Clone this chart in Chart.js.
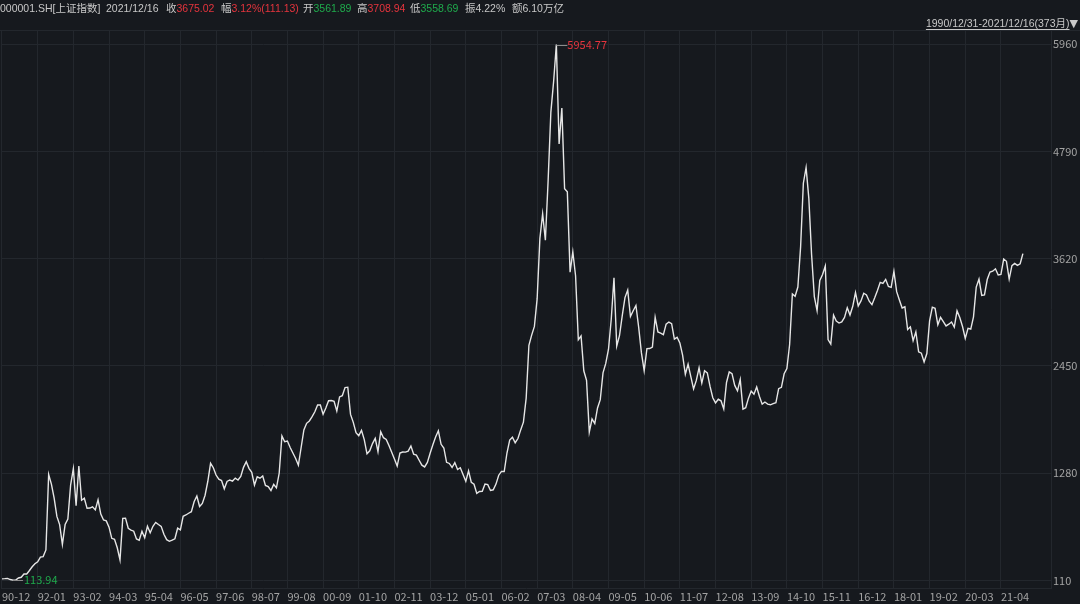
<!DOCTYPE html>
<html>
<head>
<meta charset="utf-8">
<script src="https://cdn.jsdelivr.net/npm/chart.js@4.4.0/dist/chart.umd.min.js"></script>
<style>
  html, body { margin: 0; padding: 0; background: #16191e; }
  #wrap { position: relative; width: 1080px; height: 604px; overflow: hidden;
          font-family: "Liberation Sans", "Noto Sans CJK SC", sans-serif; }
  #head { position: absolute; left: 0; top: 0; width: 1080px; height: 17px;
          font-size: 10.5px; line-height: 17px; color: #c8c8c8; white-space: nowrap; }
  #head > span { position: absolute; top: 0; }
  .up { color: #e5343d; }
  .dn { color: #1faa4c; }
  #range { position: absolute; right: 2px; top: 15px; font-size: 10.5px; line-height: 16px;
           color: #c8c8c8; white-space: nowrap; }
  #range u { text-underline-offset: 2px; }
  #range b { font-family: "DejaVu Sans", sans-serif; font-weight: normal; font-size: 11px; }
  canvas { position: absolute; left: 0; top: 0; }
</style>
</head>
<body>
<div id="wrap">
  <canvas id="myChart" width="1080" height="604"></canvas>
  <div id="head">
    <span style="left:0">000001.SH[上证指数]</span>
    <span style="left:106px">2021/12/16</span>
    <span style="left:166px">收<span class="up">3675.02</span></span>
    <span style="left:221px">幅<span class="up">3.12%(111.13)</span></span>
    <span style="left:303px">开<span class="dn">3561.89</span></span>
    <span style="left:357px">高<span class="up">3708.94</span></span>
    <span style="left:410px">低<span class="dn">3558.69</span></span>
    <span style="left:465px">振4.22%</span>
    <span style="left:512px">额6.10万亿</span>
  </div>
  <div id="range"><u>1990/12/31-2021/12/16(373月)</u><b>▼</b></div>
</div>
<script>
// monthly closes (first point = 1990-12)
const y1990 = [127.61];
const y1991 = [129.97, 133.01, 120.19, 113.94, 114.83, 137.56, 145.09, 180.07, 180.92, 218.6, 259.6, 292.75];
const y1992 = [313.24, 364.73, 370.39, 443.11, 1265.79, 1161.63, 1007.81, 808.32, 720, 503.66, 720, 780.39];
const y1993 = [1150, 1330, 925.9, 1358.78, 985, 1007, 897, 900, 914, 880, 990, 833.8];
const y1994 = [770, 760, 692, 570, 560, 467, 333.92, 788, 790, 679, 660, 647.87];
const y1995 = [562.59, 549.26, 646.9, 576.4, 700.51, 630.76, 700.4, 743.1, 720, 700, 613.2, 555.29];
const y1996 = [537.4, 550.4, 565, 680, 661, 810, 824, 843, 860, 969, 1031, 917.02];
const y1997 = [950, 1040, 1192, 1388, 1340, 1260, 1215, 1200, 1110, 1190, 1206, 1194];
const y1998 = [1226, 1206, 1244, 1344, 1406, 1333, 1290, 1151, 1240, 1225, 1250, 1147];
const y1999 = [1134, 1091, 1158, 1120, 1279, 1686, 1623, 1630, 1560, 1500, 1440, 1367];
const y2000 = [1560, 1751, 1824, 1850, 1896, 1950, 2024, 2024, 1922, 1990, 2070, 2073];
const y2001 = [2065, 1958, 2112, 2125, 2214, 2218, 1921, 1834, 1722, 1689, 1747, 1646];
const y2002 = [1491, 1524, 1603, 1660, 1515, 1733, 1667, 1648, 1581, 1508, 1434, 1358];
const y2003 = [1500, 1511, 1510, 1521, 1577, 1487, 1477, 1421, 1367, 1348, 1397, 1497];
const y2004 = [1590, 1675, 1742, 1595, 1555, 1399, 1386, 1342, 1396, 1320, 1340, 1266];
const y2005 = [1191, 1306, 1181, 1159, 1060, 1080, 1083, 1162, 1155, 1092, 1099, 1161];
const y2006 = [1258, 1299, 1298, 1500, 1641, 1672, 1612, 1658, 1752, 1837, 2099, 2675];
const y2007 = [2786, 2881, 3183, 3841, 4109, 3820, 4471, 5218, 5552, 5954.77, 4871, 5262];
const y2008 = [4383, 4348, 3472, 3693, 3433, 2736, 2776, 2397, 2293, 1729, 1871, 1821];
const y2009 = [1991, 2082, 2374, 2477, 2632, 2959, 3412, 2667, 2779, 2996, 3195, 3277];
const y2010 = [2989, 3051, 3109, 2871, 2592, 2398, 2638, 2639, 2656, 2979, 2820, 2808];
const y2011 = [2790, 2905, 2928, 2911, 2743, 2762, 2701, 2568, 2359, 2469, 2333, 2199];
const y2012 = [2292, 2428, 2263, 2397, 2373, 2226, 2103, 2047, 2086, 2069, 1980, 2269];
const y2013 = [2385, 2366, 2237, 2178, 2301, 1979, 1994, 2098, 2175, 2141, 2220, 2116];
const y2014 = [2033, 2056, 2033, 2026, 2039, 2048, 2202, 2217, 2364, 2420, 2683, 3235];
const y2015 = [3210, 3310, 3748, 4442, 4612, 4277, 3664, 3206, 3053, 3383, 3446, 3539];
const y2016 = [2738, 2688, 3004, 2938, 2917, 2930, 2979, 3085, 3005, 3100, 3250, 3104];
const y2017 = [3159, 3242, 3223, 3155, 3117, 3192, 3273, 3361, 3349, 3393, 3317, 3307];
const y2018 = [3481, 3259, 3169, 3082, 3095, 2847, 2876, 2725, 2821, 2603, 2588, 2494];
const y2019 = [2585, 2941, 3091, 3078, 2899, 2979, 2933, 2886, 2905, 2929, 2872, 3050];
const y2020 = [2977, 2880, 2750, 2860, 2852, 2985, 3310, 3396, 3218, 3225, 3392, 3473];
const y2021 = [3483, 3509, 3442, 3447, 3615, 3591, 3397, 3544, 3568, 3547, 3564, 3675.02];

const closes = [].concat(y1990, y1991, y1992, y1993, y1994, y1995, y1996, y1997, y1998,
  y1999, y2000, y2001, y2002, y2003, y2004, y2005, y2006, y2007, y2008, y2009, y2010,
  y2011, y2012, y2013, y2014, y2015, y2016, y2017, y2018, y2019, y2020, y2021);

// tick labels (one every 13 months) and y levels
const xTickLabels = ['90-12', '92-01', '93-02', '94-03', '95-04', '96-05', '97-06', '98-07',
  '99-08', '00-09', '01-10', '02-11', '03-12', '05-01', '06-02', '07-03', '08-04', '09-05',
  '10-06', '11-07', '12-08', '13-09', '14-10', '15-11', '16-12', '18-01', '19-02', '20-03', '21-04'];
const xTickStep = 13;
const yTickValues = [110, 1280, 2450, 3620, 4790, 5960];

const GRID = '#23272d';
const LABEL = '#a3a3a3';
const FONT = '"Noto Sans CJK SC", "Liberation Sans", sans-serif';

// max / min markers + top border
const marks = {
  id: 'marks',
  afterDatasetsDraw(chart) {
    const { ctx, chartArea } = chart;
    const x = chart.scales.x, y = chart.scales.y;
    const hi = closes.indexOf(Math.max(...closes));
    const lo = closes.indexOf(Math.min(...closes));
    ctx.save();
    ctx.strokeStyle = GRID;
    ctx.lineWidth = 1;
    ctx.beginPath();
    ctx.moveTo(0, chartArea.top + 0.5);
    ctx.lineTo(1080, chartArea.top + 0.5);
    ctx.stroke();

    ctx.font = '11px ' + FONT;
    ctx.textBaseline = 'middle';
    ctx.strokeStyle = '#8c8c8c';

    let px = x.getPixelForValue(hi), py = y.getPixelForValue(closes[hi]);
    ctx.beginPath();
    ctx.moveTo(px, Math.round(py) + 0.5);
    ctx.lineTo(px + 11, Math.round(py) + 0.5);
    ctx.stroke();
    ctx.fillStyle = '#e5343d';
    ctx.fillText(closes[hi].toFixed(2), px + 11, py);

    px = x.getPixelForValue(lo); py = y.getPixelForValue(closes[lo]);
    ctx.beginPath();
    ctx.moveTo(px, Math.round(py) + 0.5);
    ctx.lineTo(px + 10, Math.round(py) + 0.5);
    ctx.stroke();
    ctx.fillStyle = '#1faa4c';
    ctx.fillText(closes[lo].toFixed(2), px + 11, py);
    ctx.restore();
  }
};

const ctx = document.getElementById('myChart');
const myChart = new Chart(ctx, {
  type: 'line',
  data: {
    datasets: [{
      label: '000001.SH',
      data: closes.map((v, i) => ({ x: i, y: v })),
      borderColor: '#e6e6e6',
      borderWidth: 1.4,
      pointRadius: 0,
      tension: 0,
    }],
  },
  options: {
    responsive: false,
    devicePixelRatio: 1,
    animation: false,
    layout: { padding: { top: 30, left: 0, right: 0, bottom: 0 } },
    plugins: { legend: { display: false }, tooltip: { enabled: false } },
    scales: {
      x: {
        type: 'linear',
        min: -0.364,
        max: 382.24,
        afterBuildTicks(scale) {
          scale.ticks = xTickLabels.map((l, k) => ({ value: k * xTickStep }));
        },
        afterFit(scale) { scale.height = 16; },
        ticks: {
          autoSkip: false,
          maxRotation: 0,
          align: 'start',
          padding: 2,
          color: LABEL,
          font: { size: 11, family: FONT },
          callback: (v) => xTickLabels[Math.round(v / xTickStep)],
        },
        grid: { color: GRID, drawTicks: false },
        border: { display: true, color: GRID },
      },
      y: {
        position: 'right',
        min: 28,
        max: 6113,
        afterBuildTicks(scale) {
          scale.ticks = yTickValues.map((v) => ({ value: v }));
        },
        afterFit(scale) { scale.width = 29; },
        ticks: {
          padding: 2,
          color: LABEL,
          font: { size: 11, family: FONT },
          callback: (v) => String(v),
        },
        grid: { color: GRID, drawTicks: false },
        border: { display: true, color: GRID },
      },
    },
  },
  plugins: [marks],
});
</script>
</body>
</html>
